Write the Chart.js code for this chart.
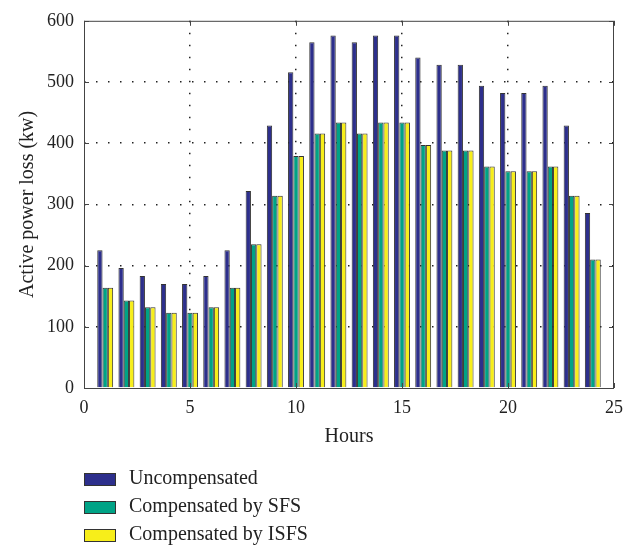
<!DOCTYPE html>
<html>
<head>
<meta charset="utf-8">
<script src="https://cdn.jsdelivr.net/npm/chart.js@4/dist/chart.umd.min.js"></script>
<style>
  html, body { margin: 0; padding: 0; background: #fff; }
  #wrap { width: 624px; height: 550px; }
</style>
</head>
<body>
<div id="wrap"><canvas id="chart"></canvas></div>
<script>
const hours = [1, 2, 3, 4, 5, 6, 7, 8, 9, 10, 11, 12, 13, 14, 15, 16, 17, 18, 19, 20, 21, 22, 23, 24];
const uncompensated = [225, 196, 183, 170, 170, 183, 225, 322, 429, 516, 565, 576, 565, 576, 576, 540, 528, 528, 494, 482, 482, 494, 429, 286];
const compSFS = [164, 143, 132, 123, 123, 132, 164, 235, 314, 379, 416, 434, 416, 434, 434, 397, 388, 388, 362, 354, 354, 362, 314, 210];
const compISFS = [164, 143, 132, 123, 123, 132, 164, 235, 314, 379, 416, 434, 416, 434, 434, 397, 388, 388, 362, 354, 354, 362, 314, 210];
const seriesNames = ['Uncompensated', 'Compensated by SFS', 'Compensated by ISFS'];

const font = '"Liberation Serif", "DejaVu Serif", serif';
const pts = (vals) => hours.map((h, i) => ({ x: h, y: vals[i] }));

// frame with inward tick marks + legend stacked under the plot
const extras = {
  id: 'extras',
  afterDraw(chart) {
    const { ctx, chartArea: a, scales } = chart;
    ctx.save();
    ctx.strokeStyle = '#444';
    ctx.lineWidth = 1;
    ctx.strokeRect(a.left + 0.5, a.top + 0.5, a.right - a.left - 1, a.bottom - a.top);
    ctx.beginPath();
    scales.y.ticks.forEach(t => {
      const y = Math.round(scales.y.getPixelForValue(t.value)) + 0.5;
      ctx.moveTo(a.left, y); ctx.lineTo(a.left + 5, y);
      ctx.moveTo(a.right, y); ctx.lineTo(a.right - 5, y);
    });
    scales.x.ticks.forEach(t => {
      const x = Math.round(scales.x.getPixelForValue(t.value)) + 0.5;
      ctx.moveTo(x, a.bottom); ctx.lineTo(x, a.bottom - 5);
      ctx.moveTo(x, a.top); ctx.lineTo(x, a.top + 5);
    });
    ctx.stroke();
    ctx.font = '20px ' + font;
    ctx.textBaseline = 'middle';
    chart.data.datasets.forEach((ds, i) => {
      const y = 479 + i * 28;
      ctx.fillStyle = ds.backgroundColor;
      ctx.fillRect(84, y - 6, 31, 12);
      ctx.strokeStyle = '#333';
      ctx.strokeRect(84.5, y - 5.5, 31, 12);
      ctx.fillStyle = '#222';
      ctx.fillText(ds.label, 129, y);
    });
    ctx.restore();
  }
};

const gridColor = (c) => (c.tick && (c.tick.value === c.scale.min || c.tick.value === c.scale.max)) ? 'rgba(0,0,0,0)' : '#222';

new Chart(document.getElementById('chart'), {
  type: 'bar',
  data: {
    datasets: [
      { label: seriesNames[0], data: pts(uncompensated), backgroundColor: '#2d2f8c', borderColor: '#333', borderWidth: 1 },
      { label: seriesNames[1], data: pts(compSFS), backgroundColor: '#00a386', borderColor: '#333', borderWidth: 1 },
      { label: seriesNames[2], data: pts(compISFS), backgroundColor: '#f7ee1a', borderColor: '#333', borderWidth: 1 }
    ]
  },
  options: {
    responsive: true,
    maintainAspectRatio: false,
    animation: false,
    categoryPercentage: 0.75,
    barPercentage: 1,
    inflateAmount: 0,
    layout: { padding: { top: 5, bottom: 100, left: 0, right: 0 } },
    plugins: { legend: { display: false }, tooltip: { enabled: false } },
    scales: {
      x: {
        type: 'linear',
        min: 0, max: 25,
        offset: false,
        afterFit: (s) => { s.height = 62; s.paddingRight = 10; s.paddingLeft = 0; },
        ticks: { stepSize: 5, color: '#222', padding: 9, font: { family: font, size: 18 } },
        grid: { color: gridColor, offset: false, drawTicks: false, lineWidth: 1.5 },
        border: { display: false, dash: [1.5, 10.5] },
        title: { display: true, text: 'Hours', color: '#222', padding: { top: 0, bottom: 1 }, font: { family: font, size: 20 } }
      },
      y: {
        min: 0, max: 600,
        afterFit: (s) => { s.width = 84; },
        ticks: { stepSize: 100, color: '#222', padding: 10, font: { family: font, size: 18 } },
        grid: { color: gridColor, drawTicks: false, lineWidth: 1.5 },
        border: { display: false, dash: [1.5, 10.5] },
        title: { display: true, text: 'Active power loss (kw)', color: '#222', padding: { top: 16, bottom: 0 }, font: { family: font, size: 20 } }
      }
    }
  },
  plugins: [extras]
});
</script>
</body>
</html>
